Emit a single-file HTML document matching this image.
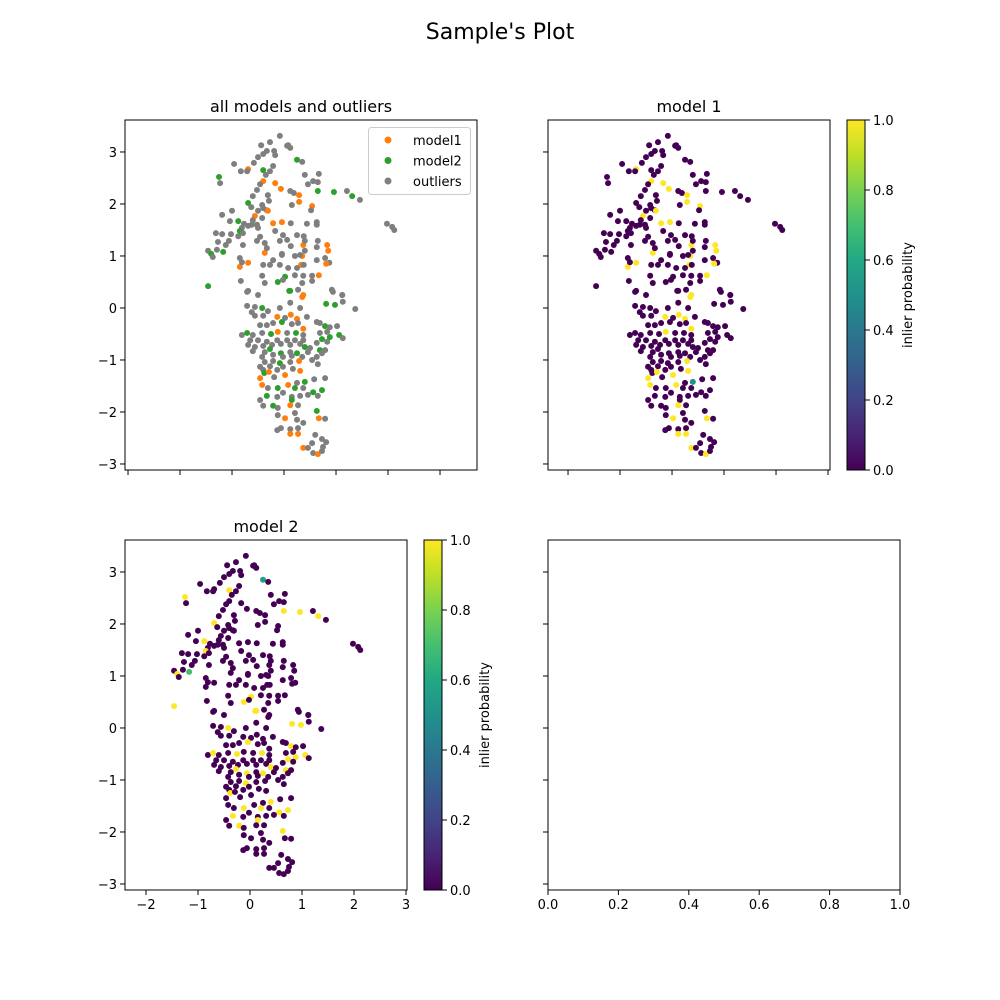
<!DOCTYPE html>
<html><head><meta charset="utf-8"><style>
body{margin:0;background:#fff}
svg{display:block;font-family:"DejaVu Sans","Liberation Sans",sans-serif}
</style></head><body>
<svg id="fig" width="1000" height="1000" viewBox="0 0 1000 1000">
<rect width="1000" height="1000" fill="#fff"/>
<text x="500" y="39" text-anchor="middle" font-size="22">Sample's Plot</text>
</svg>
<script>
// points: [x, y, category] category: 'o' outlier, '1' model1, '2' model2
const points = [
[-0.08,3.31,'o'],[-0.44,3.13,'o'],[-0.27,3.19,'o'],[0.08,3.13,'o'],[0.12,3.08,'o'],[-0.33,3.02,'o'],[-0.19,3.02,'o'],[-0.40,2.96,'o'],[-0.50,2.90,'o'],[-0.17,2.94,'o'],
[0.25,2.85,'2'],[0.35,2.81,'o'],[-0.96,2.77,'o'],[-0.58,2.79,'o'],[-0.21,2.73,'o'],[-0.40,2.65,'2'],[-0.69,2.67,'1'],[-0.83,2.63,'o'],[-0.71,2.63,'o'],[-0.27,2.63,'o'],
[-0.35,2.56,'o'],[-1.25,2.52,'2'],[-1.23,2.40,'o'],[-0.40,2.44,'1'],[-0.17,2.40,'1'],[-0.46,2.38,'o'],[-0.06,2.29,'1'],[-0.52,2.27,'o'],[0.12,2.25,'o'],[0.19,2.21,'o'],
[0.29,2.17,'1'],[-0.60,2.15,'o'],[-0.31,2.17,'o'],[0.29,2.04,'1'],[-0.69,2.02,'2'],[-0.63,1.94,'o'],[-0.42,1.98,'o'],[-0.29,2.06,'o'],[0.15,1.98,'o'],[-0.40,1.92,'o'],
[-0.33,1.88,'o'],[-0.31,1.87,'1'],[-0.50,1.87,'o'],[-1.00,1.87,'o'],[-1.19,1.79,'o'],[-0.88,1.67,'2'],[-1.04,1.67,'o'],[-0.56,1.77,'1'],[-0.60,1.69,'o'],[-0.42,1.73,'o'],
[-0.21,1.63,'1'],[-0.04,1.65,'1'],[0.13,1.63,'o'],[-0.69,1.58,'o'],[-0.77,1.62,'o'],[-0.62,1.60,'o'],[-0.52,1.60,'o'],[-0.50,1.54,'o'],[-0.81,1.54,'o'],[-0.85,1.48,'2'],
[-0.79,1.44,'o'],[-0.17,1.48,'o'],[-0.02,1.40,'o'],[0.25,1.40,'o'],[-1.31,1.44,'o'],[-1.19,1.42,'o'],[-1.02,1.42,'o'],[-0.88,1.38,'o'],[-0.46,1.37,'o'],[-1.27,1.27,'o'],
[-1.06,1.29,'o'],[-1.12,1.21,'o'],[-0.79,1.21,'o'],[-0.52,1.29,'o'],[-0.37,1.25,'o'],[-0.08,1.29,'o'],[0.13,1.19,'o'],[0.37,1.21,'1'],[-1.46,1.10,'o'],[-1.29,1.12,'o'],
[-1.17,1.08,'2'],[-1.40,1.04,'2'],[-1.37,0.98,'o'],[-0.85,0.96,'o'],[-0.69,0.87,'1'],[-0.85,0.79,'1'],[-0.81,0.88,'o'],[-0.37,1.06,'1'],[-0.33,1.15,'o'],[-0.21,0.92,'o'],
[-0.40,0.83,'o'],[-0.27,0.83,'o'],[-0.04,1.02,'o'],[0.21,1.00,'o'],[0.35,1.00,'1'],[-0.08,0.83,'o'],[0.33,0.83,'1'],[0.02,0.60,'2'],[-0.12,0.50,'2'],[-0.02,0.54,'o'],
[-1.46,0.42,'2'],[-0.83,0.52,'o'],[-0.42,0.62,'o'],[-0.37,0.48,'o'],[0.10,0.33,'2'],[0.21,0.63,'o'],[-0.69,0.33,'o'],[-0.50,0.25,'o'],
[0.06,3.12,'o'],[0.40,2.56,'o'],[0.67,2.58,'o'],[0.56,2.44,'o'],[0.65,2.42,'o'],[0.46,2.38,'o'],[0.65,2.25,'2'],[0.96,2.23,'2'],[1.21,2.25,'o'],[1.31,2.15,'2'],
[1.46,2.08,'o'],[0.54,1.96,'1'],[0.52,1.88,'o'],[1.98,1.62,'o'],[2.12,1.50,'o'],[2.08,1.56,'o'],[0.44,1.62,'o'],[0.63,1.65,'o'],[0.63,1.60,'o'],[0.38,1.38,'o'],
[0.06,1.31,'o'],[0.40,1.29,'o'],[0.65,1.29,'o'],[0.83,1.21,'1'],[0.63,1.17,'o'],[0.85,1.10,'1'],[0.40,1.10,'o'],[-0.04,1.04,'o'],[0.31,1.02,'o'],[0.63,0.92,'o'],
[0.79,0.96,'o'],[0.87,0.87,'o'],[0.81,0.85,'1'],[0.38,0.83,'o'],[0.08,0.77,'o'],[0.25,0.77,'o'],[0.67,0.63,'1'],[0.54,0.62,'o'],[0.37,0.62,'o'],[0.54,0.52,'o'],
[0.35,0.48,'o'],[0.92,0.35,'o'],[1.12,0.25,'o'],[0.27,0.35,'o'],[0.37,0.25,'1'],
[-0.71,0.31,'o'],[0.12,0.33,'2'],[0.35,0.21,'1'],[0.94,0.31,'o'],[1.12,0.25,'o'],[1.13,0.12,'o'],[1.37,-0.02,'o'],[0.81,0.08,'2'],[0.98,0.06,'2'],[-0.71,0.04,'o'],
[-0.56,0.02,'o'],[-0.42,0.00,'2'],[-0.31,-0.06,'o'],[-0.08,0.00,'o'],[0.12,0.10,'o'],[0.31,0.00,'o'],[-0.62,-0.08,'o'],[-0.56,-0.15,'o'],[-0.40,-0.15,'o'],[-0.13,-0.17,'1'],
[0.02,-0.19,'o'],[0.13,-0.13,'1'],[0.25,-0.21,'1'],[0.44,-0.17,'o'],[0.63,-0.27,'o'],[0.69,-0.29,'o'],[0.79,-0.35,'2'],[0.88,-0.37,'o'],[1.02,-0.35,'o'],[-0.46,-0.33,'o'],
[-0.33,-0.33,'o'],[-0.21,-0.29,'o'],[-0.04,-0.27,'2'],[0.15,-0.31,'o'],[0.27,-0.29,'o'],[0.37,-0.40,'1'],[-0.81,-0.52,'o'],[-0.71,-0.48,'2'],[-0.60,-0.52,'o'],[-0.42,-0.48,'o'],
[-0.25,-0.50,'2'],[-0.12,-0.46,'1'],[0.06,-0.48,'o'],[0.23,-0.48,'2'],[0.37,-0.52,'o'],[0.69,-0.48,'o'],[0.83,-0.46,'o'],[1.06,-0.52,'2'],[1.13,-0.58,'o'],[0.88,-0.56,'2'],
[0.73,-0.60,'2'],[-0.65,-0.62,'o'],[-0.50,-0.62,'o'],[-0.33,-0.65,'o'],[-0.13,-0.62,'o'],[0.06,-0.62,'o'],[0.21,-0.62,'o'],[0.37,-0.62,'o'],[-0.69,-0.71,'o'],[-0.56,-0.75,'o'],
[-0.40,-0.73,'o'],[-0.23,-0.71,'o'],[-0.06,-0.69,'o'],[0.12,-0.71,'o'],[0.31,-0.69,'o'],[0.63,-0.67,'o'],[0.83,-0.65,'o'],[0.40,-0.75,'2'],[0.50,-0.77,'o'],[-0.60,-0.83,'o'],
[-0.37,-0.85,'o'],[-0.27,-0.79,'2'],[-0.06,-0.87,'2'],[0.12,-0.85,'o'],[0.25,-0.87,'2'],[0.46,-0.85,'o'],[0.69,-0.81,'2'],[0.79,-0.81,'o'],[0.73,-0.87,'o'],[-0.42,-0.94,'o'],
[-0.21,-0.90,'o'],[-0.02,-0.94,'o'],[0.15,-0.92,'o'],[0.35,-0.94,'o'],[0.63,-0.94,'o'],[-0.37,-1.04,'o'],[-0.21,-1.02,'o'],[-0.08,-1.06,'2'],[0.12,-1.04,'o'],[0.29,-1.02,'1'],
[0.54,-1.00,'o'],[0.65,-1.08,'o'],[-0.46,-1.13,'o'],[-0.27,-1.12,'o'],[-0.02,-1.13,'o'],[0.17,-1.17,'o'],[0.31,-1.21,'1'],[-0.40,-1.19,'o'],[-0.38,-1.25,'2'],[-0.29,-1.23,'1'],
[-0.13,-1.19,'o'],[0.02,-1.29,'1'],[-0.19,-1.33,'o'],[-0.46,-1.35,'1'],[-0.42,-1.48,'1'],[-0.31,-1.54,'o'],[-0.12,-1.54,'2'],[0.08,-1.48,'1'],[0.25,-1.44,'o'],[0.40,-1.42,'2'],
[0.58,-1.37,'o'],[0.79,-1.35,'o'],[0.21,-1.54,'2'],[0.37,-1.54,'o'],[0.56,-1.62,'2'],[0.73,-1.58,'2'],[-0.02,-1.63,'o'],[0.15,-1.71,'o'],[0.31,-1.69,'o'],[0.46,-1.67,'o'],
[0.65,-1.69,'o'],[-0.33,-1.69,'2'],[-0.46,-1.77,'o'],[-0.13,-1.71,'o'],[0.15,-1.77,'2'],[-0.40,-1.88,'o'],[-0.21,-1.88,'2'],[-0.12,-1.92,'o'],[0.12,-1.87,'1'],[0.27,-1.87,'o'],
[0.63,-1.98,'2'],[-0.12,-2.06,'o'],[0.02,-2.12,'1'],[0.21,-2.02,'o'],[0.25,-2.15,'o'],[0.37,-2.21,'o'],[0.67,-2.12,'1'],[0.79,-2.13,'o'],[-0.13,-2.35,'o'],[-0.06,-2.31,'o'],
[0.12,-2.33,'o'],[0.27,-2.31,'o'],[0.12,-2.42,'1'],[0.27,-2.42,'1'],[0.60,-2.44,'o'],[0.73,-2.52,'o'],[0.81,-2.58,'o'],[0.54,-2.60,'o'],[0.37,-2.69,'1'],[0.46,-2.69,'o'],
[0.75,-2.67,'o'],[0.56,-2.79,'o'],[0.65,-2.81,'1'],[0.73,-2.75,'o']
];
// probability overrides: [index, value]
const prob2Overrides = [[10,0.55],[80,0.7]];
const prob1Overrides = [[262,0.5]];
const categories = ['model1','model2','outliers'];
const catColors = {'1':'#ff7f0e','2':'#2ca02c','o':'#7f7f7f'};
const xTicksTL = [-3,-2,-1,0,1,2,3];
const xTicksB = [-2,-1,0,1,2,3];
const yTicks = [3,2,1,0,-1,-2,-3];
const cbTicks = [0.0,0.2,0.4,0.6,0.8,1.0];
const brTicks = [0.0,0.2,0.4,0.6,0.8,1.0];

const prob1 = points.map(p=>p[2]==='1'?1:0);
prob1Overrides.forEach(([i,v])=>prob1[i]=v);
const prob2 = points.map(p=>p[2]==='2'?1:0);
prob2Overrides.forEach(([i,v])=>prob2[i]=v);

const NS='http://www.w3.org/2000/svg';
const svg=document.getElementById('fig');
function el(tag,attrs,parent){const e=document.createElementNS(NS,tag);for(const k in attrs)e.setAttribute(k,attrs[k]);(parent||svg).appendChild(e);return e;}
function txt(x,y,s,size,anchor,parent){const t=el('text',{x:x,y:y,'font-size':size,'text-anchor':anchor||'middle'},parent);t.textContent=s;return t;}
const vir=[[0,'#440154'],[0.1,'#482475'],[0.2,'#414487'],[0.3,'#355f8d'],[0.4,'#2a788e'],[0.5,'#21918c'],[0.6,'#22a884'],[0.7,'#44bf70'],[0.8,'#7ad151'],[0.9,'#bddf26'],[1,'#fde725']];
function hex(h){return [1,3,5].map(i=>parseInt(h.substr(i,2),16));}
function viridis(v){for(let i=0;i<vir.length-1;i++){if(v<=vir[i+1][0]){const t=(v-vir[i][0])/(vir[i+1][0]-vir[i][0]);const a=hex(vir[i][1]),b=hex(vir[i+1][1]);return 'rgb('+a.map((c,k)=>Math.round(c+(b[k]-c)*t)).join(',')+')';}}return vir[vir.length-1][1];}
const fmt=v=>v<0?'\u2212'+Math.abs(v):String(v);

function makeAxes(name,L,T,W,H,xmin,ymax,scale,showXLab,showYLab,xt){
  const g=el('g',{},svg);
  
  
  const sx=x=>L+(x-xmin)*scale, sy=y=>T+(ymax-y)*scale;
  const clip=el('clipPath',{id:'c'+name},g);el('rect',{x:L,y:T,width:W,height:H},clip);
  const marks=el('g',{'clip-path':'url(#c'+name+')'},g);
  
  
  xt.forEach(v=>{const x=sx(v);el('line',{x1:x,x2:x,y1:T+H,y2:T+H+5,stroke:'#000','stroke-width':1},g);if(showXLab)txt(x,T+H+19,fmt(v),13,'middle',g);});
  yTicks.forEach(v=>{const y=sy(v);el('line',{x1:L-5,x2:L,y1:y,y2:y,stroke:'#000','stroke-width':1},g);if(showYLab)txt(L-8,y+5,fmt(v),13,'end',g);});
  return {g,marks,sx,sy,L,T,W,H};
}
function frame(a){const r=el('rect',{x:a.L,y:a.T,width:a.W,height:a.H,fill:'none',stroke:'#000','stroke-width':1},a.g);}

// top-left
const A=makeAxes('axes-all-models',125,120,352,350,-3.058,3.615,52,false,true,xTicksTL);
points.forEach(p=>{const c=el('circle',{cx:A.sx(p[0]),cy:A.sy(p[1]),r:3,fill:catColors[p[2]]},A.marks);

});
frame(A);
txt(301,112,'all models and outliers',16,'middle',A.g);
const lg=el('g',{},A.g);


el('rect',{x:368.5,y:127.5,width:102,height:67,rx:3,fill:'#fff','fill-opacity':0.8,stroke:'#ccc'},lg);
['1','2','o'].forEach((k,i)=>{const y=140+i*20.5;el('circle',{cx:388,cy:y,r:3.5,fill:catColors[k]},lg);const t=txt(413,y+5,categories[i],13,'start',lg);

});

// top-right
const B=makeAxes('axes-model-1',548,120,282,350,-2.385,3.615,52,false,false,xTicksB);
points.forEach((p,i)=>{const c=el('circle',{cx:B.sx(p[0]),cy:B.sy(p[1]),r:3,fill:viridis(prob1[i])},B.marks);

});
frame(B);
txt(689,112,'model 1',16,'middle',B.g);

// bottom-left
const C=makeAxes('axes-model-2',125,540,282,350,-2.404,3.615,52,true,true,xTicksB);
points.forEach((p,i)=>{const c=el('circle',{cx:C.sx(p[0]),cy:C.sy(p[1]),r:3,fill:viridis(prob2[i])},C.marks);

});
frame(C);
txt(266,532,'model 2',16,'middle',C.g);

// colorbars
let gid=0;
function colorbar(name,L,T,W,H,labelX){
  const g=el('g',{},svg);
  
  
  const id='vg'+(gid++);
  const lgd=el('linearGradient',{id:id,x1:0,y1:1,x2:0,y2:0},g);
  vir.forEach(s=>el('stop',{offset:s[0],'stop-color':s[1]},lgd));
  el('rect',{x:L,y:T,width:W,height:H,fill:'url(#'+id+')',stroke:'#000','stroke-width':1},g);
  cbTicks.forEach(v=>{const y=T+H-v*H;el('line',{x1:L+W,x2:L+W+5,y1:y,y2:y,stroke:'#000'},g);txt(L+W+8,y+5,v.toFixed(1),13,'start',g);});
  const t=txt(0,0,'inlier probability',13,'middle',g);
  t.setAttribute('transform','translate('+labelX+','+(T+H/2)+') rotate(-90)');
}
colorbar('colorbar-model-1',847,120,18,350,912);
colorbar('colorbar-model-2',424,540,18,350,489);

// bottom-right empty axes
const D=el('g',{},svg);


el('rect',{x:548,y:540,width:352,height:350,fill:'none',stroke:'#000'},D);
brTicks.forEach(v=>{const x=548+v*352;el('line',{x1:x,x2:x,y1:890,y2:895,stroke:'#000'},D);txt(x,909,v.toFixed(1),13,'middle',D);});
yTicks.forEach(v=>{const y=728-v*52;el('line',{x1:543,x2:548,y1:y,y2:y,stroke:'#000'},D);});
</script>
</body></html>
